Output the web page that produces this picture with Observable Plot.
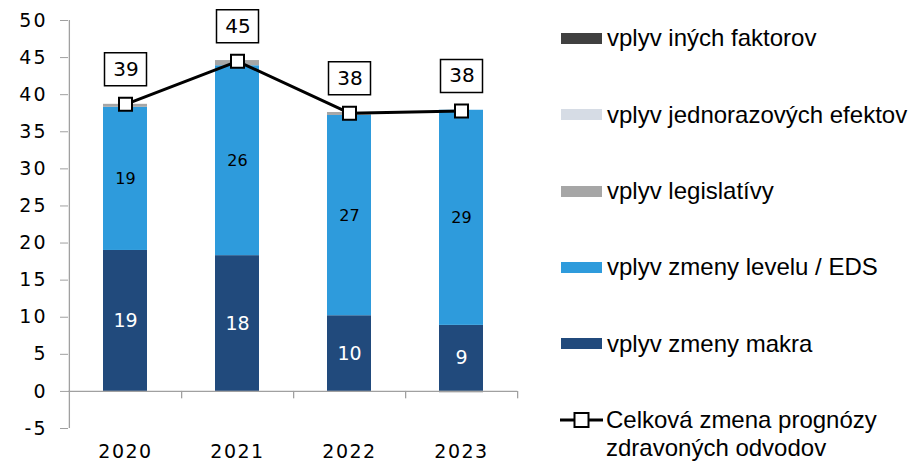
<!DOCTYPE html>
<html>
<head>
<meta charset="utf-8">
<script src="https://cdn.jsdelivr.net/npm/d3@7"></script>
<script src="https://cdn.jsdelivr.net/npm/@observablehq/plot@0.6"></script>
<style>
  body { margin: 0; background: #fff; }
  #wrap { position: relative; width: 911px; height: 466px; overflow: hidden; }
  #legend { position: absolute; left: 561px; top: 0; font-family: "Liberation Sans", Arial, sans-serif; font-size: 24px; color: #000; }
  .row { position: absolute; left: 0; display: flex; align-items: flex-start; white-space: nowrap; line-height: 28px; }
  .sw { width: 41px; height: 11px; margin-top: 8.5px; margin-right: 5px; flex: none; }
  .ic { width: 43px; height: 28px; margin-right: 3px; flex: none; }
  g[aria-label="y-axis tick label"] text { letter-spacing: 2px; }
  g[aria-label="x-axis tick label"] text { letter-spacing: 1.5px; }
  g[aria-label="total label"] text { letter-spacing: 1px; }
</style>
</head>
<body>
<div id="wrap"><div id="chart"></div><div id="legend"></div></div>
<script>
// ---- data ----
const years = ["2020", "2021", "2022", "2023"];
const seriesNames = [
  "vplyv zmeny makra",
  "vplyv zmeny levelu / EDS",
  "vplyv legislatívy",
  "vplyv jednorazových efektov",
  "vplyv iných faktorov"
];
const seriesColors = ["#214a7c", "#2e9bdc", "#a6a6a6", "#d6dce5", "#404040"];
const makro = [19.0, 18.3, 10.2, 8.9];
const level = [19.3, 25.6, 27.0, 29.0];
const legislativa = [0.4, 0.7, 0.4, -0.2];
const jednorazove = [0, 0, 0, 0];
const ine = [0, 0, 0, 0];
const total = [38.7, 44.5, 37.5, 37.8];
const totalLabels = ["39", "45", "38", "38"];
const makroLabels = ["19", "18", "10", "9"];
const levelLabels = ["19", "26", "27", "29"];
const yTicks = [-5, 0, 5, 10, 15, 20, 25, 30, 35, 40, 45, 50];
const lineName = ["Celková zmena prognózy", "zdravoných odvodov"];

// ---- tables built from the arrays ----
const seriesValues = [makro, level, legislativa, jednorazove, ine];
const seriesLabels = [makroLabels, levelLabels];
const stackData = seriesNames.flatMap((s, k) =>
  years.map((y, i) => ({
    year: y, series: s, value: seriesValues[k][i],
    label: seriesLabels[k] ? seriesLabels[k][i] : null
  }))
);
const lineData = years.map((y, i) => ({ year: y, total: total[i], label: totalLabels[i] }));

const W = 911, H = 466;
const mL = 68, mR = 394, mT = 20, mB = 38;
const step = (W - mL - mR) / years.length;

const squareSym = { draw(ctx) { ctx.rect(-6.5, -6.5, 13, 13); } };
const boxSym = { draw(ctx) { ctx.rect(-21, -16.5, 42, 33); } };

const chart = Plot.plot({
  width: W, height: H,
  marginLeft: mL, marginRight: mR, marginTop: mT, marginBottom: mB,
  style: { fontFamily: "DejaVu Sans, sans-serif", fontSize: "19px", color: "#000", background: "transparent" },
  x: { type: "band", domain: years, paddingInner: 0.61, paddingOuter: 0.305, label: null },
  y: { domain: [-5, 50], label: null },
  color: { domain: seriesNames, range: seriesColors },
  marks: [
    Plot.barY(stackData, { x: "year", y: "value", fill: "series", z: "series" }),
    Plot.text(stackData, Plot.stackY({
      x: "year", y: "value", z: "series",
      text: d => d.series === seriesNames[0] ? d.label : null,
      fill: "white", fontSize: 19
    })),
    Plot.text(stackData, Plot.stackY({
      x: "year", y: "value", z: "series",
      text: d => d.series === seriesNames[1] ? d.label : null,
      fill: "black", fontSize: 16
    })),
    Plot.ruleY([0], { stroke: "#a0a0a0", strokeWidth: 1.3 }),
    Plot.ruleX(years, { x: d => d, y1: 0, y2: -1, dx: step / 2, stroke: "#a0a0a0", strokeWidth: 1.3 }),
    Plot.ruleX([years[0]], { x: d => d, y1: -5, y2: 50, dx: -step / 2, stroke: "#a0a0a0", strokeWidth: 1.3 }),
    Plot.axisY({ ticks: yTicks, tickFormat: d => String(d), tickSize: 8, tickPadding: 13,
      stroke: "#a0a0a0", fill: "#000", fontSize: 19, label: null }),
    Plot.axisX({ tickSize: 0, tickPadding: 16, fill: "#000", fontSize: 19, label: null }),
    Plot.line(lineData, { x: "year", y: "total", stroke: "#000", strokeWidth: 3 }),
    Plot.dot(lineData, { x: "year", y: "total", symbol: squareSym, r: 8, fill: "white", stroke: "#000", strokeWidth: 2 }),
    Plot.dot(lineData, { x: "year", y: "total", symbol: boxSym, r: 8, dy: -35, fill: "white", stroke: "#000", strokeWidth: 1.5 }),
    Plot.text(lineData, { x: "year", y: "total", text: "label", dy: -35, dx: 0.5, fill: "#000", fontSize: 20, ariaLabel: "total label" })
  ]
});
document.getElementById("chart").appendChild(chart);

// ---- legend (HTML) ----
const legend = document.getElementById("legend");
const order = [4, 3, 2, 1, 0];
const rowCenters = [38, 114.5, 191, 267, 343.5];
order.forEach((k, j) => {
  const row = document.createElement("div");
  row.className = "row";
  row.style.top = (rowCenters[j] - 14) + "px";
  const sw = document.createElement("div");
  sw.className = "sw";
  sw.style.background = seriesColors[k];
  const t = document.createElement("span");
  t.textContent = seriesNames[k];
  row.appendChild(sw); row.appendChild(t);
  legend.appendChild(row);
});
const lrow = document.createElement("div");
lrow.className = "row";
lrow.style.top = (420 - 14) + "px";
lrow.style.left = "-1px";
lrow.innerHTML = '<svg class="ic" viewBox="0 0 43 28"><line x1="0" y1="14" x2="43" y2="14" stroke="#000" stroke-width="3"/><rect x="14.5" y="7" width="14" height="14" fill="#fff" stroke="#000" stroke-width="2"/></svg>';
const lt = document.createElement("div");
lt.innerHTML = lineName.join("<br>");
lrow.appendChild(lt);
legend.appendChild(lrow);
</script>
</body>
</html>
